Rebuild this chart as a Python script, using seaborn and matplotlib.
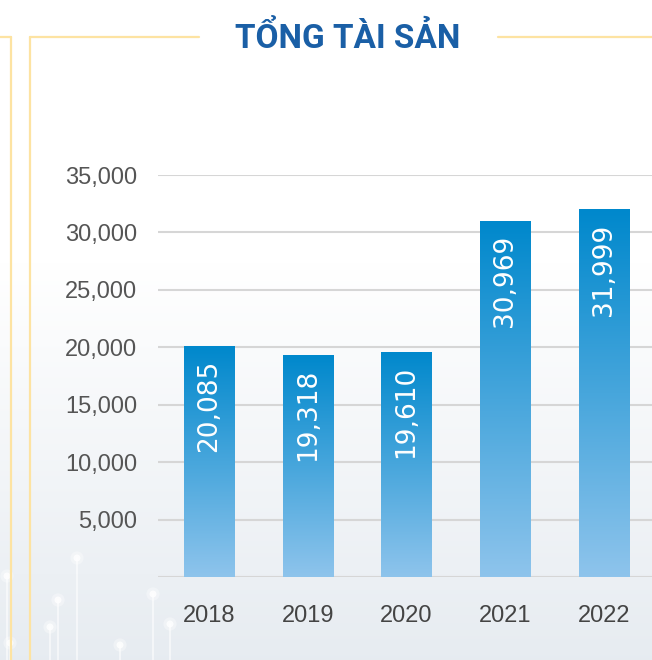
import numpy as np
import pandas as pd
import matplotlib
matplotlib.use("Agg")
import matplotlib.pyplot as plt
from matplotlib.lines import Line2D
import seaborn as sns

# ---- data ----
years = ["2018", "2019", "2020", "2021", "2022"]
values = [20085, 19318, 19610, 30969, 31999]
value_labels = ["20,085", "19,318", "19,610", "30,969", "31,999"]
ytick_values = [5000, 10000, 15000, 20000, 25000, 30000, 35000]
ytick_labels = ["5,000", "10,000", "15,000", "20,000", "25,000", "30,000", "35,000"]
title = "TỔNG TÀI SẢN"

df = pd.DataFrame({"year": years, "value": values})

sns.set_theme(style="white")
plt.rcParams["font.family"] = ["Liberation Sans", "DejaVu Sans"]

W, H = 652, 660
fig = plt.figure(figsize=(W / 100, H / 100), dpi=100)

# background gradient (white at top -> light grey-blue at bottom)
bg = fig.add_axes([0, 0, 1, 1], zorder=-10)
yy = np.linspace(0, 1, 300)[:, None]
t = np.clip((yy - 0.40) / 0.60, 0, 1)
top = np.array([1.0, 1.0, 1.0])
bot = np.array([0.905, 0.925, 0.945])
img = top[None, None, :] * (1 - t[..., None]) + bot[None, None, :] * t[..., None]
img = np.repeat(img, 2, axis=1)
bg.imshow(img, aspect="auto", extent=[0, 1, 0, 1], origin="upper")
bg.set_xlim(0, 1); bg.set_ylim(0, 1); bg.axis("off")

# decorative faint light streaks bottom-left
for xpx, ytop in [(77, 558), (58, 600), (50, 627), (7, 576), (153, 594), (170, 624), (120, 645), (10, 643)]:
    bg.add_line(Line2D([xpx / W, xpx / W], [0, 1 - ytop / H], color="white", lw=1.5, alpha=0.55))
    bg.scatter([xpx / W], [1 - ytop / H], s=90, color="white", alpha=0.35, edgecolors="none")
    bg.scatter([xpx / W], [1 - ytop / H], s=25, color="white", alpha=0.8, edgecolors="none")

# gold frame lines
gold = "#fde3a2"
fl = dict(color=gold, lw=1.6, transform=fig.transFigure)
fig.add_artist(Line2D([11 / W, 11 / W], [0, 1 - 37 / H], **fl))
fig.add_artist(Line2D([30 / W, 30 / W], [0, 1 - 37 / H], **fl))
fig.add_artist(Line2D([0, 11 / W], [1 - 37 / H] * 2, **fl))
fig.add_artist(Line2D([30 / W, 199 / W], [1 - 37 / H] * 2, **fl))
fig.add_artist(Line2D([498 / W, 1], [1 - 37 / H] * 2, **fl))

# title
fig.text(348 / W, 1 - 38 / H, title, ha="center", va="center", fontsize=24,
         fontweight="bold", color="#1a5fa6",
         family=["Liberation Sans Narrow", "Roboto", "DejaVu Sans"])

# main axes
ax = fig.add_axes([158 / W, (H - 577) / H, (W - 158) / W, (577 - 175) / H])
ax.patch.set_alpha(0)
sns.barplot(data=df, x="year", y="value", ax=ax, width=0.51, color="#0a8ccf",
            saturation=1, zorder=3)

ax.set_ylim(0, 35000)
ax.set_xlim(-0.516, 4.486)
ax.set_yticks(ytick_values)
ax.set_yticklabels(ytick_labels)
ax.set_xlabel("")
ax.set_ylabel("")
for s in ax.spines.values():
    s.set_visible(False)
ax.tick_params(axis="y", length=0, pad=15, labelsize=17, labelcolor="#555555")
ax.tick_params(axis="x", length=0, pad=20, labelsize=17, labelcolor="#444444")
for yv in [0] + ytick_values:
    ax.axhline(yv, color="#d6d6d6", lw=1.5, zorder=1)

# gradient fill for bars (each bar: deep blue at top -> light blue at bottom)
grad = np.linspace(0, 1, 256)[:, None]
c_top = np.array([0 / 255, 136 / 255, 204 / 255])
c_bot = np.array([142 / 255, 196 / 255, 236 / 255])
gimg = c_top[None, None, :] * (1 - grad[..., None]) + c_bot[None, None, :] * grad[..., None]
for p in ax.patches:
    x0, y0 = p.get_x(), p.get_y()
    w, h = p.get_width(), p.get_height()
    im = ax.imshow(gimg, aspect="auto", extent=[x0, x0 + w, y0, y0 + h],
                   origin="upper", zorder=3.5)
    im.set_clip_path(p)
    p.set_facecolor("none")
    p.set_edgecolor("none")
ax.set_xlim(-0.516, 4.486)
ax.set_ylim(0, 35000)

# value labels inside bars
for i, (v, lab) in enumerate(zip(values, value_labels)):
    ax.annotate(lab, xy=(i, v), xytext=(0, -10), textcoords="offset points",
                ha="center", va="top", rotation=90, color="white", fontsize=19,
                family=["DejaVu Sans"], zorder=5)

fig.savefig("out.png", dpi=100)
